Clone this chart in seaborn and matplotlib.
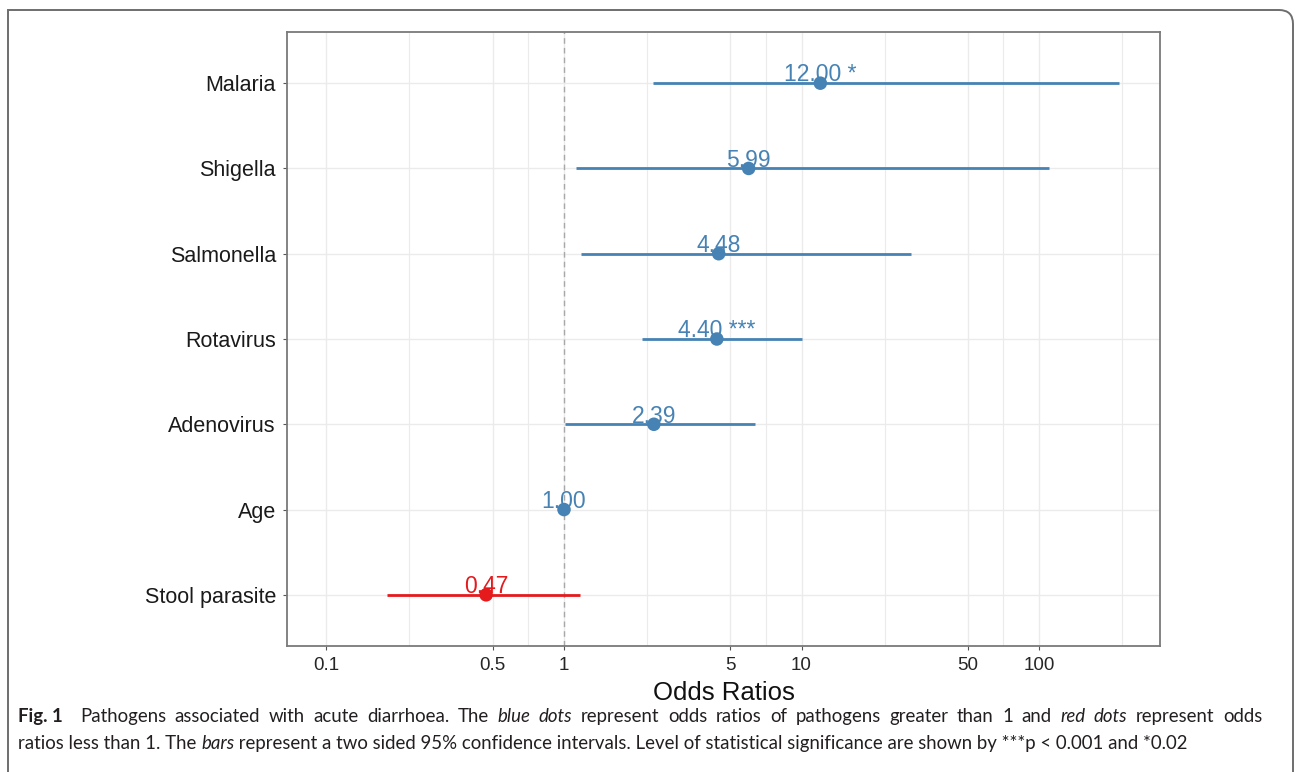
import numpy as np
import pandas as pd
import matplotlib
matplotlib.use('Agg')
import matplotlib.pyplot as plt
from matplotlib.path import Path
import matplotlib.patches as mpatches
import seaborn as sns

# Data
factors = ['Malaria', 'Shigella', 'Salmonella', 'Rotavirus', 'Adenovirus', 'Age', 'Stool parasite']
odds_ratio = [12.00, 5.99, 4.48, 4.40, 2.39, 1.00, 0.47]
ci_low = [2.37, 1.12, 1.18, 2.13, 1.01, 1.00, 0.18]
ci_high = [217.0, 110.0, 28.9, 10.0, 6.37, 1.00, 1.17]
signif = ['*', '', '', '***', '', '', '']
x_ticks = [0.1, 0.5, 1, 5, 10, 50, 100]
x_tick_labels = ['0.1', '0.5', '1', '5', '10', '50', '100']

BLUE = '#4682B4'
RED = '#E41A1C'

df = pd.DataFrame({'factor': factors, 'OR': odds_ratio, 'low': ci_low, 'high': ci_high, 'sig': signif})
df['pos'] = np.arange(len(df), 0, -1)  # Malaria on top
df['dir'] = np.where(df['OR'] < 1, 'lower', 'higher')
df['label'] = [f'{v:.2f} {s}'.strip() for v, s in zip(df['OR'], df['sig'])]

sns.set_theme(style='white')
plt.rcParams['font.family'] = ['Liberation Sans', 'DejaVu Sans']

W, H = 1295, 772
fig = plt.figure(figsize=(W / 100, H / 100), dpi=100)
ax = fig.add_axes([287 / W, 1 - 646 / H, (1160 - 287) / W, (646 - 32) / H])

ax.set_xscale('log')
ax.set_xlim(0.0682, 323)
ax.set_ylim(0.4, len(df) + 0.6)

# grid: majors + geometric midpoints as minors (ggplot style)
ext = x_ticks + [500]
minors = [np.sqrt(a * b) for a, b in zip(ext[:-1], ext[1:])]
for x in x_ticks:
    ax.axvline(x, color='#EBEBEB', lw=1.0, zorder=0)
for x in minors:
    ax.axvline(x, color='#EBEBEB', lw=0.8, zorder=0)
for y in df['pos']:
    ax.axhline(y, color='#EBEBEB', lw=1.0, zorder=0)

ax.axvline(1, color='#A8A8A8', lw=1.0, ls=(0, (4, 3)), zorder=1)

# confidence intervals
for _, r in df.iterrows():
    c = RED if r['dir'] == 'lower' else BLUE
    ax.hlines(r['pos'], r['low'], r['high'], color=c, lw=2.0, zorder=2)

sns.scatterplot(data=df, x='OR', y='pos', hue='dir', palette={'higher': BLUE, 'lower': RED},
                s=95, edgecolor='none', legend=False, zorder=3, ax=ax)

for _, r in df.iterrows():
    c = RED if r['dir'] == 'lower' else BLUE
    ax.annotate(r['label'], (r['OR'], r['pos']), xytext=(0, 1.2), textcoords='offset points',
                ha='center', va='baseline', fontsize=16.5, color=c, zorder=4)

ax.set_xticks(x_ticks)
ax.set_xticklabels(x_tick_labels)
ax.xaxis.set_minor_locator(matplotlib.ticker.NullLocator())
ax.set_yticks(df['pos'])
ax.set_yticklabels(df['factor'])
ax.tick_params(axis='x', labelsize=13.5, labelcolor='#262626', length=3, width=0.8, color='#555555',
               pad=5, bottom=True)
ax.tick_params(axis='y', labelsize=15.5, labelcolor='#1A1A1A', length=3, width=0.8, color='#555555',
               pad=5, left=True)
ax.set_xlabel('Odds Ratios', fontsize=18.5, color='#111111', labelpad=5)
ax.set_ylabel('')
for sp in ax.spines.values():
    sp.set_color('#7A7A7A')
    sp.set_linewidth(1.3)

# outer frame with rounded top-right corner
def fx(px):
    return px / W

def fy(py):
    return 1 - py / H

rad = 14
verts = [(fx(8), fy(790)), (fx(8), fy(10)), (fx(1293 - rad), fy(10)),
         (fx(1293), fy(10)), (fx(1293), fy(10 + rad)), (fx(1293), fy(790))]
codes = [Path.MOVETO, Path.LINETO, Path.LINETO, Path.CURVE3, Path.CURVE3, Path.LINETO]
frame = mpatches.PathPatch(Path(verts, codes), transform=fig.transFigure, fill=False,
                           edgecolor='#6E6E6E', lw=1.4, clip_on=False)
fig.patches.append(frame)

# caption with mixed styles; first line justified like the journal layout
cap_font = ['Lato', 'DejaVu Sans']
cap_size = 13.4
cap_color = '#231F20'
line1 = [('Fig. 1', 'bold', 'normal')] + \
    [(w, 'normal', 'normal') for w in 'Pathogens associated with acute diarrhoea. The'.split()] + \
    [(w, 'normal', 'italic') for w in 'blue dots'.split()] + \
    [(w, 'normal', 'normal') for w in 'represent odds ratios of pathogens greater than 1 and'.split()] + \
    [(w, 'normal', 'italic') for w in 'red dots'.split()] + \
    [(w, 'normal', 'normal') for w in 'represent odds'.split()]
line2 = [('ratios less than 1. The ', 'normal', 'normal'), ('bars', 'normal', 'italic'),
         (' represent a two sided 95% confidence intervals. Level of statistical significance '
          'are shown by ***p < 0.001 and *0.02', 'normal', 'normal')]

renderer = fig.canvas.get_renderer()
x_left, x_right = 18, 1262
words = []
for txt, wt, st in line1:
    t = fig.text(0, fy(722), txt, fontsize=cap_size, fontweight=wt, fontstyle=st,
                 family=cap_font, color=cap_color, va='baseline', ha='left')
    words.append(t)
widths = [t.get_window_extent(renderer).width for t in words]
gap = (x_right - x_left - sum(widths)) / (len(words) - 1 + 1)  # extra gap after "Fig. 1"
xpos = x_left
for i, (t, w) in enumerate(zip(words, widths)):
    t.set_x(fx(xpos))
    xpos += w + gap * (2 if i == 0 else 1)

prev = None
for txt, wt, st in line2:
    if prev is None:
        prev = fig.text(fx(x_left), fy(749), txt, fontsize=cap_size, fontweight=wt, fontstyle=st,
                        family=cap_font, color=cap_color, va='baseline', ha='left')
    else:
        prev = ax.annotate(txt, xy=(1, 0), xycoords=prev, va='bottom', ha='left',
                           fontsize=cap_size, fontweight=wt, fontstyle=st, family=cap_font,
                           color=cap_color, annotation_clip=False)

fig.savefig('out.png', dpi=100)
